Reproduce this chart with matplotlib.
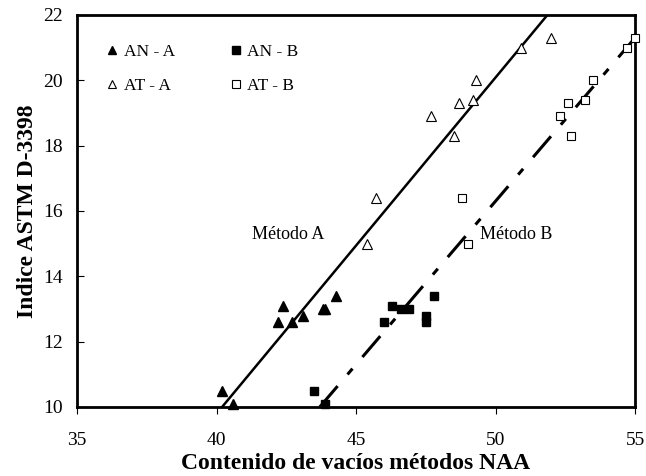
import matplotlib.pyplot as plt
import numpy as np

plt.rcParams['font.family'] = ['Liberation Serif', 'DejaVu Serif']

# Datos
an_a_x = [40.2, 40.6, 42.2, 42.4, 42.7, 43.1, 43.8, 43.9, 44.3]
an_a_y = [10.5, 10.1, 12.6, 13.1, 12.6, 12.8, 13.0, 13.0, 13.4]

an_b_x = [43.5, 43.9, 46.0, 46.3, 46.6, 46.9, 47.5, 47.5, 47.8]
an_b_y = [10.5, 10.1, 12.6, 13.1, 13.0, 13.0, 12.8, 12.6, 13.4]

at_a_x = [45.4, 45.7, 47.7, 48.5, 48.7, 49.2, 49.3, 50.9, 52.0]
at_a_y = [15.0, 16.4, 18.9, 18.3, 19.3, 19.4, 20.0, 21.0, 21.3]

at_b_x = [48.8, 49.0, 52.3, 52.7, 52.6, 53.2, 53.5, 54.7, 55.0]
at_b_y = [16.4, 15.0, 18.9, 18.3, 19.3, 19.4, 20.0, 21.0, 21.3]

# Rectas de ajuste
metodo_a_x = [40.2, 51.86]
metodo_a_y = [10.0, 22.0]
metodo_b_x = [43.7, 55.0]
metodo_b_y = [10.0, 21.3]

fig = plt.figure(figsize=(6.46, 4.76), dpi=100)
ax = fig.add_axes([0.1192, 0.145, 0.8638, 0.8235])

ax.plot(metodo_a_x, metodo_a_y, color='black', lw=1.8, zorder=2)
ax.plot(metodo_b_x, metodo_b_y, color='black', lw=2.2, zorder=2,
        dashes=(9, 5, 2.5, 5))

ms = 6.5
h1, = ax.plot(an_a_x, an_a_y, '^', color='black', ms=ms, ls='none', label='AN - A', zorder=3, clip_on=False)
h2, = ax.plot(an_b_x, an_b_y, 's', color='black', ms=ms - 0.5, ls='none', label='AN - B', zorder=3, clip_on=False)
h3, = ax.plot(at_a_x, at_a_y, '^', mfc='white', mec='black', mew=0.8, ms=ms, ls='none', label='AT - A', zorder=3, clip_on=False)
h4, = ax.plot(at_b_x, at_b_y, 's', mfc='white', mec='black', mew=0.8, ms=ms - 0.5, ls='none', label='AT - B', zorder=3, clip_on=False)

ax.text(41.27, 15.27, 'Método A', fontsize=13, va='center')
ax.text(49.44, 15.27, 'Método B', fontsize=13, va='center')

ax.set_xlim(35, 55)
ax.set_ylim(10, 22)
ax.set_xticks([35, 40, 45, 50, 55])
ax.set_yticks([10, 12, 14, 16, 18, 20, 22])
ax.tick_params(axis='x', direction='out', length=5, labelsize=14, pad=13)
ax.tick_params(axis='y', direction='in', length=5, labelsize=14, pad=10)
for s in ax.spines.values():
    s.set_linewidth(2)

ax.set_xlabel('Contenido de vacíos métodos NAA', fontsize=17, fontweight='bold', labelpad=3)
ax.set_ylabel('Indice ASTM D-3398', fontsize=17, fontweight='bold', labelpad=4)

ax.legend(handles=[h1, h3, h2, h4], loc='upper left', bbox_to_anchor=(0.02, 0.965), ncol=2,
          frameon=False, fontsize=12.5, handletextpad=0.15, columnspacing=3.0,
          labelspacing=1.0, handlelength=1.0, markerscale=0.85)

fig.savefig('out.png', dpi=100)
